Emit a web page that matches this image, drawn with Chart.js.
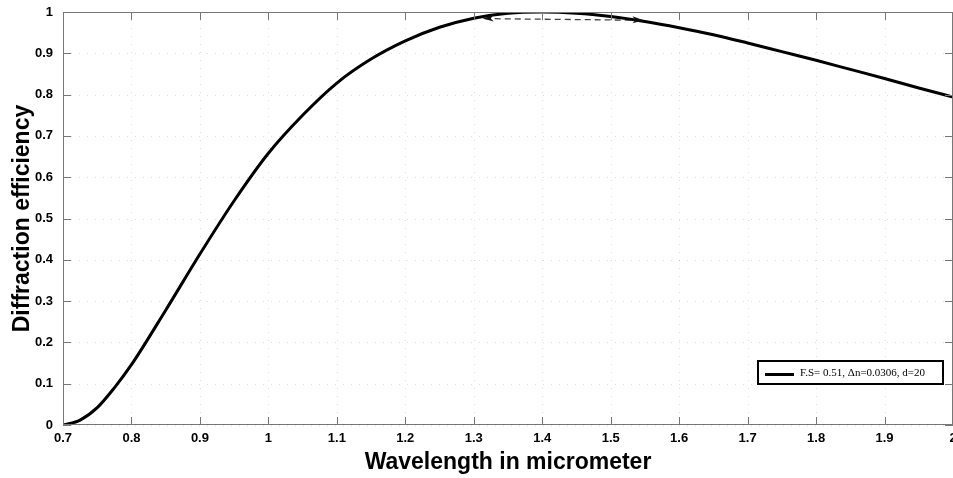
<!DOCTYPE html>
<html>
<head>
<meta charset="utf-8">
<script src="https://cdn.jsdelivr.net/npm/chart.js@4/dist/chart.umd.min.js"></script>
<style>
  html, body { margin:0; padding:0; background:#fff; overflow:hidden; }
  #wrap { position:absolute; left:0; top:0; }
</style>
</head>
<body>
<div id="wrap"><canvas id="grafico" width="953" height="478"></canvas></div>
<script>
// dados
const wavelength = [0.70, 0.725, 0.75, 0.775, 0.80, 0.85, 0.90, 0.95, 1.00, 1.05, 1.10, 1.15, 1.20, 1.25,
                    1.30, 1.35, 1.40, 1.45, 1.50, 1.55, 1.60, 1.65, 1.70, 1.75, 1.80, 1.85, 1.90, 1.95, 2.00];
const efficiency = [0.000, 0.012, 0.042, 0.090, 0.146, 0.278, 0.414, 0.543, 0.658, 0.750, 0.828, 0.886, 0.930, 0.963,
                    0.985, 0.997, 1.000, 0.997, 0.989, 0.977, 0.962, 0.945, 0.925, 0.904, 0.883, 0.861, 0.839, 0.816, 0.794];
// seta tracejada perto do pico
const arrowX = [1.316, 1.545];
const arrowY = [0.984, 0.980];

const xTickLabels = ['0.7','0.8','0.9','1','1.1','1.2','1.3','1.4','1.5','1.6','1.7','1.8','1.9','2'];
const yTickLabels = ['0','0.1','0.2','0.3','0.4','0.5','0.6','0.7','0.8','0.9','1'];
const legendLabel = 'F.S= 0.51, \u0394n=0.0306, d=20';

const FONT = '"Liberation Sans", Arial, sans-serif';

// grade pontilhada (bem fraca, como no original)
const grade = {
  id: 'grade',
  beforeDatasetsDraw(chart){
    const {ctx, chartArea:a, scales} = chart;
    ctx.save();
    ctx.strokeStyle = 'rgba(0,0,0,0.13)';
    ctx.lineWidth = 1;
    ctx.setLineDash([1, 7]);
    ctx.beginPath();
    scales.x.ticks.forEach(t => {
      const px = Math.round(scales.x.getPixelForValue(t.value)) + 0.5;
      ctx.moveTo(px, a.top); ctx.lineTo(px, a.bottom);
    });
    scales.y.ticks.forEach(t => {
      const py = Math.round(scales.y.getPixelForValue(t.value)) + 0.5;
      ctx.moveTo(a.left, py); ctx.lineTo(a.right, py);
    });
    ctx.stroke();
    ctx.restore();
  }
};

// moldura + ticks para dentro nos 4 lados
const moldura = {
  id: 'moldura',
  afterDraw(chart){
    const {ctx, chartArea:a, scales} = chart;
    ctx.save();
    ctx.strokeStyle = '#777';
    ctx.lineWidth = 1;
    ctx.strokeRect(a.left + 0.5, a.top + 0.5, a.right - a.left - 1, a.bottom - a.top - 1);
    ctx.beginPath();
    scales.x.ticks.forEach(t => {
      const px = Math.round(scales.x.getPixelForValue(t.value)) + 0.5;
      ctx.moveTo(px, a.bottom); ctx.lineTo(px, a.bottom - 8);
      ctx.moveTo(px, a.top); ctx.lineTo(px, a.top + 8);
    });
    scales.y.ticks.forEach(t => {
      const py = Math.round(scales.y.getPixelForValue(t.value)) + 0.5;
      ctx.moveTo(a.left, py); ctx.lineTo(a.left + 8, py);
      ctx.moveTo(a.right, py); ctx.lineTo(a.right - 8, py);
    });
    ctx.stroke();

    // pontas da seta
    const pts = chart.getDatasetMeta(1).data;
    if (pts.length === 2){
      const p0 = pts[0], p1 = pts[1];
      ctx.fillStyle = '#111';
      ctx.beginPath();
      ctx.moveTo(p0.x - 2, p0.y);
      ctx.lineTo(p0.x + 9, p0.y - 4);
      ctx.lineTo(p0.x + 6, p0.y);
      ctx.lineTo(p0.x + 9, p0.y + 3);
      ctx.closePath();
      ctx.fill();
      ctx.beginPath();
      ctx.moveTo(p1.x + 2, p1.y);
      ctx.lineTo(p1.x - 9, p1.y - 4);
      ctx.lineTo(p1.x - 6, p1.y);
      ctx.lineTo(p1.x - 9, p1.y + 3);
      ctx.closePath();
      ctx.fill();
    }

    // legenda dentro do gráfico
    const bx = a.right - 195, by = a.bottom - 64, bw = 185, bh = 23;
    ctx.fillStyle = '#fff';
    ctx.fillRect(bx, by, bw, bh);
    ctx.strokeStyle = '#000';
    ctx.lineWidth = 2;
    ctx.strokeRect(bx, by, bw, bh);
    ctx.lineWidth = 3;
    ctx.beginPath();
    ctx.moveTo(bx + 7, by + 13.5);
    ctx.lineTo(bx + 36, by + 13.5);
    ctx.stroke();
    ctx.fillStyle = '#000';
    ctx.font = '11px "Liberation Serif", "Times New Roman", serif';
    ctx.textBaseline = 'middle';
    ctx.fillText(chart.data.datasets[0].label, bx + 42, by + 12.5);
    ctx.restore();
  }
};

new Chart(document.getElementById('grafico'), {
  type: 'line',
  data: {
    datasets: [
      {
        label: legendLabel,
        data: wavelength.map((x, i) => ({x, y: efficiency[i]})),
        borderColor: '#000',
        borderWidth: 3,
        pointRadius: 0,
        cubicInterpolationMode: 'monotone',
        fill: false
      },
      {
        label: 'seta',
        data: arrowX.map((x, i) => ({x, y: arrowY[i]})),
        borderColor: '#444',
        borderWidth: 1.3,
        borderDash: [6, 4],
        pointRadius: 0,
        fill: false
      }
    ]
  },
  options: {
    responsive: false,
    animation: false,
    devicePixelRatio: 1,
    layout: { padding: { top: 12, right: 0, left: 0, bottom: 0 } },
    plugins: { legend: { display: false }, tooltip: { enabled: false } },
    scales: {
      x: {
        type: 'linear',
        min: 0.7, max: 2,
        afterFit(s){ s.height = 53; s.paddingLeft = 0; s.paddingRight = 0; },
        border: { display: false },
        grid: { display: false, drawTicks: false },
        ticks: {
          stepSize: 0.1, padding: 6, color: '#000',
          font: { family: FONT, size: 13, weight: 'bold' },
          maxRotation: 0,
          callback: (v, i) => xTickLabels[i]
        },
        title: {
          display: true, text: 'Wavelength in micrometer', color: '#000',
          font: { family: FONT, size: 23, weight: 'bold' },
          padding: { top: 0, bottom: 2 }
        }
      },
      y: {
        type: 'linear',
        min: 0, max: 1,
        afterFit(s){ s.width = 63; s.paddingTop = 0; s.paddingBottom = 0; },
        border: { display: false },
        grid: { display: false, drawTicks: false },
        ticks: {
          stepSize: 0.1, padding: 10, color: '#000',
          font: { family: FONT, size: 13, weight: 'bold' },
          callback: (v, i) => yTickLabels[i]
        },
        title: {
          display: true, text: 'Diffraction efficiency', color: '#000',
          font: { family: FONT, size: 23, weight: 'bold' },
          padding: { top: 9, bottom: 0 }
        }
      }
    }
  },
  plugins: [grade, moldura]
});
</script>
</body>
</html>
